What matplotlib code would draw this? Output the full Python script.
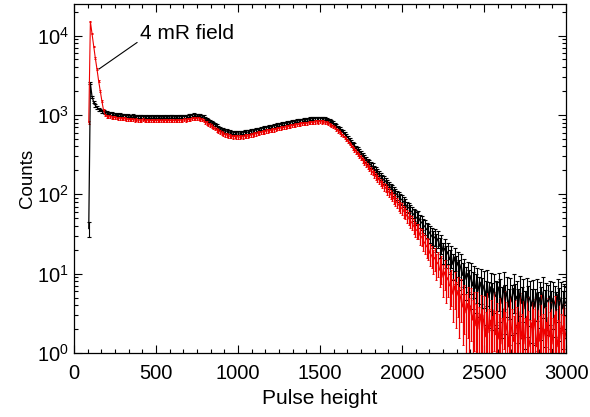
import numpy as np
import matplotlib
matplotlib.use('Agg')
import matplotlib.pyplot as plt
from matplotlib.ticker import AutoMinorLocator

plt.rcParams['font.family'] = ['Liberation Sans', 'DejaVu Sans']

# pulse-height channels (bin centres)
channels = np.arange(90, 3001, 10)

# black spectrum (counts per bin)
counts_black = [37,
    2500, 1700, 1450, 1320, 1250, 1180, 1150, 1110, 1095, 1080,
    1070, 1060, 1045, 1050, 1025, 1030, 1010, 1000, 1005, 990,
    985, 990, 970, 980, 965, 960, 975, 955, 960, 950,
    955, 945, 960, 940, 950, 955, 935, 950, 945, 940,
    945, 950, 935, 945, 940, 955, 945, 935, 950, 945,
    945, 950, 940, 955, 945, 955, 950, 960, 955, 965,
    980, 975, 990, 1010, 995, 1000, 990, 985, 965, 950,
    900, 880, 855, 830, 810, 770, 750, 725, 700, 680,
    660, 645, 630, 625, 610, 605, 600, 590, 600, 595,
    595, 590, 600, 595, 605, 610, 605, 615, 625, 630,
    640, 645, 655, 660, 670, 680, 685, 695, 700, 705,
    710, 720, 725, 735, 745, 750, 760, 770, 775, 785,
    790, 800, 805, 815, 825, 830, 840, 845, 855, 860,
    865, 875, 870, 885, 890, 900, 895, 905, 910, 905,
    910, 900, 905, 890, 880, 860, 845, 820, 790, 760,
    730, 700, 670, 640, 610, 580, 550, 520, 490, 460,
    430, 410, 385, 365, 345, 330, 310, 290, 275, 260,
    250, 235, 225, 210, 200, 190, 178, 170, 160, 152,
    145, 138, 130, 122, 117, 110, 104, 98, 93, 88,
    85, 80, 76, 70, 68, 63, 60, 56, 53, 50,
    52, 46, 44, 41, 39, 36, 35, 32, 30, 28,
    29, 25, 28, 22, 24, 19, 21, 17, 19, 15,
    17, 13, 16, 12, 14, 10.5, 13, 9.5, 11, 8.5,
    10, 7.5, 9.5, 7, 8.8, 6.5, 8, 6, 7.8, 5.8,
    7.2, 5.2, 7.5, 5, 6.8, 4.8, 6.5, 5.2, 5, 6.8,
    5.5, 4.2, 7, 4.5, 6, 3.8, 5.8, 4.4, 6.5, 4.6,
    5.2, 3.9, 6.2, 4.2, 5.5, 3.6, 5.8, 4.3, 5.1, 3.9,
    5.4, 3.8, 5.6, 3.5, 5, 4.1, 5.9, 3.7, 4.8, 4.4,
    5.2, 3.6, 4.9, 4.3, 3.4, 5.5, 4, 5, 3.6, 4.6,
    4.2]

# red spectrum (4 mR field)
counts_red = [800,
    15000, 10500, 7300, 5200, 3800, 2700, 2000, 1500, 1150, 1000,
    960, 950, 945, 940, 925, 930, 915, 905, 910, 895,
    890, 895, 875, 885, 870, 865, 880, 860, 865, 855,
    860, 850, 865, 845, 855, 860, 840, 855, 850, 845,
    850, 855, 840, 850, 845, 860, 850, 840, 855, 850,
    850, 855, 845, 860, 850, 860, 855, 865, 860, 870,
    880, 875, 890, 905, 895, 900, 890, 885, 865, 850,
    810, 790, 765, 745, 725, 690, 670, 650, 630, 610,
    590, 580, 565, 560, 545, 540, 535, 530, 535, 530,
    530, 525, 535, 530, 540, 545, 540, 550, 560, 565,
    575, 580, 590, 595, 600, 610, 615, 625, 630, 635,
    640, 645, 650, 660, 670, 675, 685, 690, 695, 705,
    710, 720, 725, 735, 740, 745, 755, 760, 770, 775,
    780, 785, 785, 795, 800, 810, 805, 815, 820, 815,
    825, 815, 820, 805, 795, 780, 765, 740, 715, 690,
    660, 630, 605, 575, 550, 520, 495, 465, 440, 415,
    390, 370, 345, 325, 305, 290, 272, 255, 240, 228,
    215, 200, 192, 178, 170, 160, 150, 142, 134, 126,
    120, 113, 106, 99, 95, 88, 83, 78, 73, 69,
    66, 61, 58, 53, 50, 46, 44, 40, 37, 35,
    35, 30, 29, 26, 24, 22, 21, 18, 17, 15,
    16, 13, 14, 11, 12, 9, 10.5, 8, 9, 7,
    7.5, 5.5, 7, 5, 6, 4.2, 5.5, 3.8, 4.5, 3.2,
    4.2, 2.8, 4, 2.6, 3.5, 2.2, 3.4, 2, 3.1, 1.8,
    3, 1.6, 3.3, 1.8, 2.6, 1.4, 3.5, 1.7, 2.3, 1.5,
    2.8, 1.3, 3.6, 1.6, 2.4, 1.2, 3, 1.8, 1.4, 2.6,
    2, 1.1, 3.3, 1.5, 2.5, 1.3, 2.9, 1.7, 1.2, 2.4,
    1.8, 2.7, 1.2, 2.2, 1.4, 3.1, 1.5, 2, 1.1, 2.8,
    1.6, 2.4, 1.3, 3, 1.8, 1.2, 2.6, 1.5, 2.2, 1.4,
    1.9]

black = np.array(counts_black, dtype=float)
red = np.array(counts_red, dtype=float)

fig = plt.figure(figsize=(5.9, 4.17), dpi=100)
ax = fig.add_axes([0.1254, 0.1535, 0.834, 0.837])

ax.errorbar(channels, black, yerr=1.3 * np.sqrt(black), color='black', lw=0.9,
            elinewidth=0.8, capsize=1.2, capthick=0.8)
ax.errorbar(channels, red, yerr=1.3 * np.sqrt(red), color='#ee0000', lw=0.8,
            elinewidth=0.9, capsize=0.8, capthick=0.7)

ax.set_yscale('log')
ax.set_xlim(0, 3000)
ax.set_ylim(1, 2.5e4)
ax.set_xticks([0, 500, 1000, 1500, 2000, 2500, 3000])
ax.xaxis.set_minor_locator(AutoMinorLocator(6))
ax.tick_params(which='both', direction='in', top=True, right=True, labelsize=14.5)
ax.tick_params(which='major', length=6, width=0.8)
ax.tick_params(which='minor', length=3, width=0.8)
ax.tick_params(axis='x', pad=8)
for s in ax.spines.values():
    s.set_linewidth(0.9)

ax.set_xlabel('Pulse height', fontsize=15, labelpad=4)
ax.set_ylabel('Counts', fontsize=13.5, labelpad=1)

ax.annotate('4 mR field', xy=(152, 3780), xytext=(402, 1.05e4),
            fontsize=15, ha='left', va='center',
            arrowprops=dict(arrowstyle='-', color='black', lw=0.8,
                            relpos=(0, 0.15), shrinkA=0, shrinkB=0))

plt.savefig('out.png', dpi=100)
